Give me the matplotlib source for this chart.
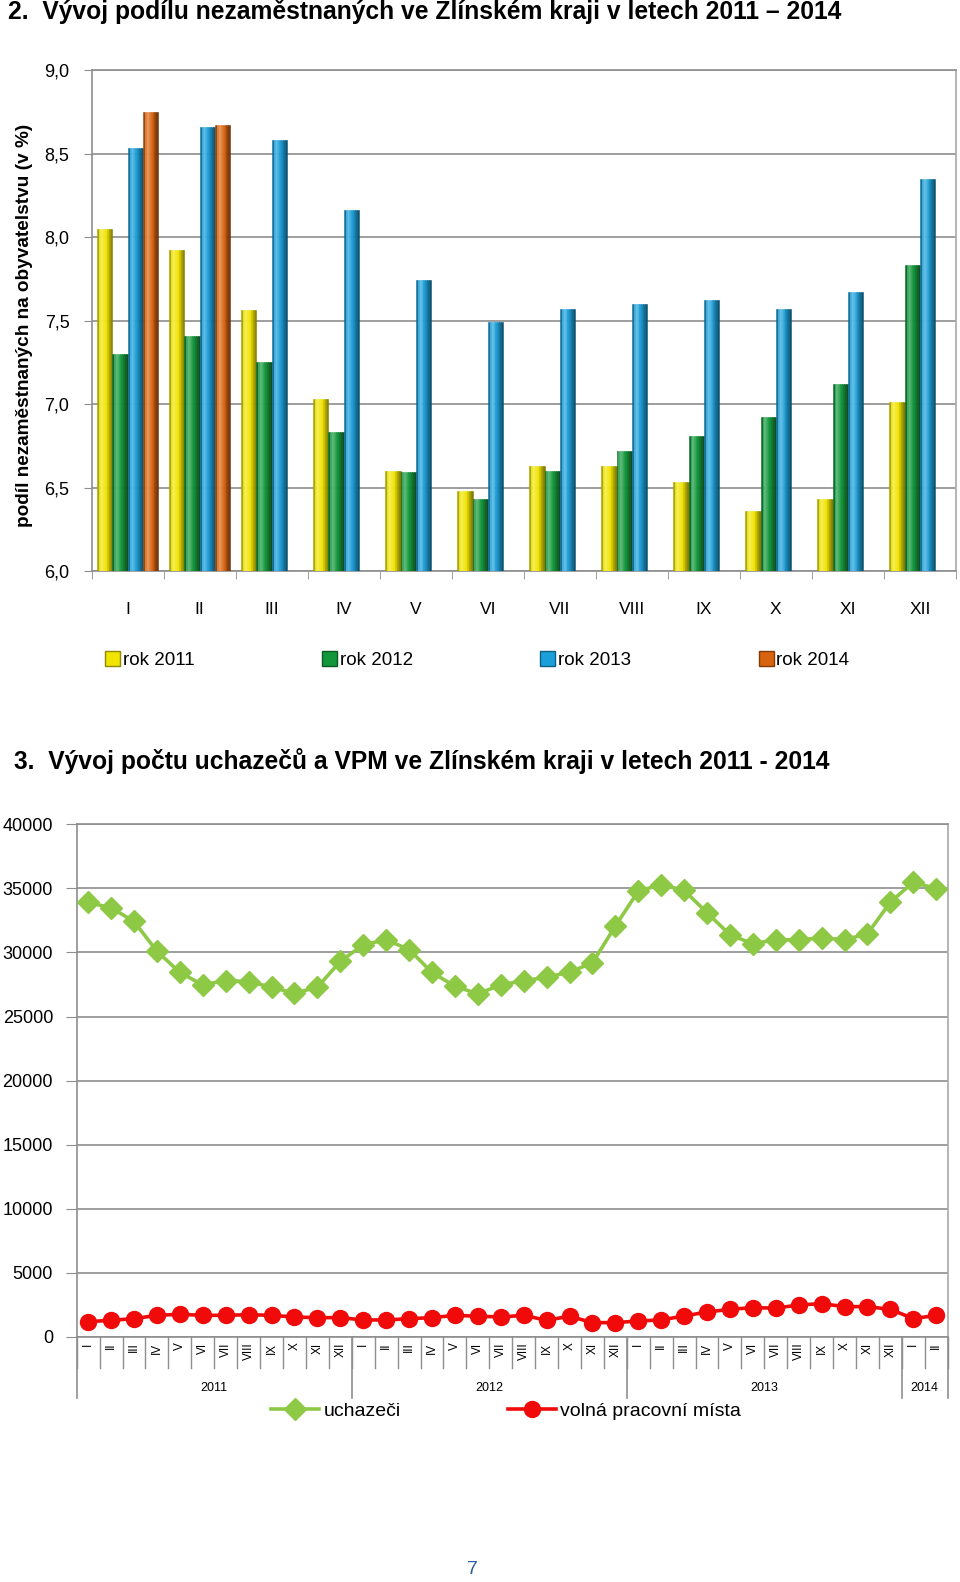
import numpy as np
import matplotlib
matplotlib.use("Agg")
import matplotlib.pyplot as plt
from matplotlib.colors import to_rgb
from matplotlib.patches import Patch

plt.rcParams['font.family'] = ['Liberation Sans', 'DejaVu Sans']

# graf 2 - podil nezamestnanych (v %)
mesice = ['I', 'II', 'III', 'IV', 'V', 'VI', 'VII', 'VIII', 'IX', 'X', 'XI', 'XII']
rok_2011 = [8.05, 7.92, 7.56, 7.03, 6.60, 6.48, 6.63, 6.63, 6.53, 6.36, 6.43, 7.01]
rok_2012 = [7.30, 7.41, 7.25, 6.83, 6.59, 6.43, 6.60, 6.72, 6.81, 6.92, 7.12, 7.83]
rok_2013 = [8.53, 8.66, 8.58, 8.16, 7.74, 7.49, 7.57, 7.60, 7.62, 7.57, 7.67, 8.35]
rok_2014 = [8.75, 8.67]
serie_nazvy = ['rok 2011', 'rok 2012', 'rok 2013', 'rok 2014']
serie_barvy = ['#F0E400', '#12973A', '#1A9FD9', '#D8630E']

# graf 3 - uchazeci a volna pracovni mista
roky = ['2011', '2012', '2013', '2014']
mesicu_v_roce = [12, 12, 12, 2]
uchazeci = [33900, 33490, 32420, 30100, 28440, 27470, 27810, 27730, 27290, 26820, 27290, 29300,
            30600, 30990, 30230, 28440, 27370, 26770, 27470, 27790, 28070, 28460, 29190, 32060,
            34790, 35290, 34840, 33100, 31380, 30680, 30990, 30990, 31150, 30990, 31460, 33930,
            35490, 34970]
vpm = [1200, 1300, 1430, 1690, 1770, 1690, 1690, 1740, 1690, 1560, 1510, 1510,
       1330, 1330, 1430, 1510, 1690, 1620, 1560, 1690, 1300, 1620, 1120, 1120,
       1250, 1330, 1640, 1950, 2160, 2290, 2250, 2500, 2600, 2370, 2370, 2160,
       1430, 1690]


def shade(c, f):
    rgb = np.array(to_rgb(c))
    if f >= 1:
        rgb = rgb + (1 - rgb) * (f - 1)
    else:
        rgb = rgb * f
    return tuple(np.clip(rgb, 0, 1))


fig = plt.figure(figsize=(9.6, 15.82), dpi=100)
grid_c = '#8E8E8E'

# ---------------- graf 2 ----------------
ax1 = fig.add_axes([0.0955, 0.63906, 0.9003, 0.31669])
x = np.arange(len(mesice))
w = 0.212
faktory = [0.72, 1.2, 1.3, 1.15, 1.0, 0.85, 0.68, 0.55]
n = len(faktory)
for j, (vals, c) in enumerate(zip([rok_2011, rok_2012, rok_2013, rok_2014], serie_barvy)):
    xs = x[:len(vals)] + (j - 1.5) * w - w / 2
    for k, f in enumerate(faktory):
        col = shade(c, f)
        ax1.bar(xs + k * w / n, vals, width=w / n, align='edge', color=col,
                edgecolor=col, linewidth=0.4, zorder=3)

ax1.set_xlim(-0.5, len(mesice) - 0.5)
ax1.set_ylim(6, 9)
ax1.set_yticks(np.arange(6, 9.01, 0.5))
ax1.set_yticklabels([f'{v:.1f}'.replace('.', ',') for v in np.arange(6, 9.01, 0.5)])
ax1.yaxis.grid(True, color=grid_c, lw=1.2, zorder=0)
ax1.set_axisbelow(True)
ax1.set_xticks(x, mesice)
ax1.set_xticks(np.arange(len(mesice) + 1) - 0.5, minor=True)
ax1.tick_params(axis='x', which='major', length=0, pad=22, labelsize=12.5)
ax1.tick_params(axis='x', which='minor', length=6, color=grid_c)
ax1.tick_params(axis='y', length=6, color=grid_c, pad=10, labelsize=13)
for s in ax1.spines.values():
    s.set_color(grid_c)
    s.set_linewidth(1.2)
ax1.spines['right'].set_color('#A8A8A8')

handles = [Patch(facecolor=c, edgecolor=shade(c, 0.6)) for c in serie_barvy]
fig.legend(handles, serie_nazvy, loc='center', bbox_to_anchor=(0.497, 0.5828), ncol=4,
           frameon=False, fontsize=13.5, handlelength=0.8, handleheight=0.8,
           handletextpad=0.15, columnspacing=6.8)

fig.text(25 / 960, 1 - 325 / 1582, 'podíl nezaměstnaných na obyvatelstvu (v %)',
         rotation=90, fontsize=13.7, fontweight='bold', ha='center', va='center')
fig.text(8 / 960, 1 - 12 / 1582,
         '2.  Vývoj podílu nezaměstnaných ve Zlínském kraji v letech 2011 – 2014',
         fontsize=17.7, fontweight='bold', va='center')

# ---------------- graf 3 ----------------
ax2 = fig.add_axes([0.0799, 0.15487, 0.9073, 0.32408])
xb = np.arange(len(uchazeci))
ax2.plot(xb, uchazeci, color='#8DC945', lw=2.6, marker='D', ms=11, zorder=3,
         label='uchazeči')
ax2.plot(xb, vpm, color='#F00A0A', lw=2.6, marker='o', ms=11.5, zorder=4,
         label='volná pracovní místa')
ax2.set_xlim(-0.5, len(uchazeci) - 0.5)
ax2.set_ylim(0, 40000)
ax2.set_yticks(np.arange(0, 40001, 5000))
ax2.yaxis.grid(True, color=grid_c, lw=1.2, zorder=0)
ax2.set_axisbelow(True)
popisky = []
for pocet in mesicu_v_roce:
    popisky += mesice[:pocet]
ax2.set_xticks(xb, popisky, rotation=90)
ax2.tick_params(axis='x', length=0, pad=4, labelsize=8.5)
ax2.tick_params(axis='y', length=8, color=grid_c, pad=9, labelsize=13)
for s in ax2.spines.values():
    s.set_color(grid_c)
    s.set_linewidth(1.2)
ax2.spines['right'].set_color('#A8A8A8')

tr = ax2.get_xaxis_transform()
for b in np.arange(len(uchazeci) + 1) - 0.5:
    ax2.plot([b, b], [0, -0.06], transform=tr, color=grid_c, lw=1, clip_on=False)
hranice = np.concatenate([[0], np.cumsum(mesicu_v_roce)]) - 0.5
for b in hranice:
    ax2.plot([b, b], [0, -0.119], transform=tr, color=grid_c, lw=1.2, clip_on=False)
for r, a, b in zip(roky, hranice[:-1], hranice[1:]):
    ax2.text((a + b) / 2, -0.0995, r, transform=tr, ha='center', va='center', fontsize=9)

fig.legend(loc='center', bbox_to_anchor=(0.527, 1 - 1411 / 1582), ncol=2, frameon=False,
           fontsize=14, handlelength=2.5, handletextpad=0.2, columnspacing=5.5)

fig.text(14 / 960, 1 - 761 / 1582,
         '3.  Vývoj počtu uchazečů a VPM ve Zlínském kraji v letech 2011 - 2014',
         fontsize=17.7, fontweight='bold', va='center')

fig.text(472 / 960, 1 - 1570 / 1582, '7', color='#2F5F9F', fontsize=14,
         ha='center', va='center')

plt.savefig('out.png', dpi=100)
